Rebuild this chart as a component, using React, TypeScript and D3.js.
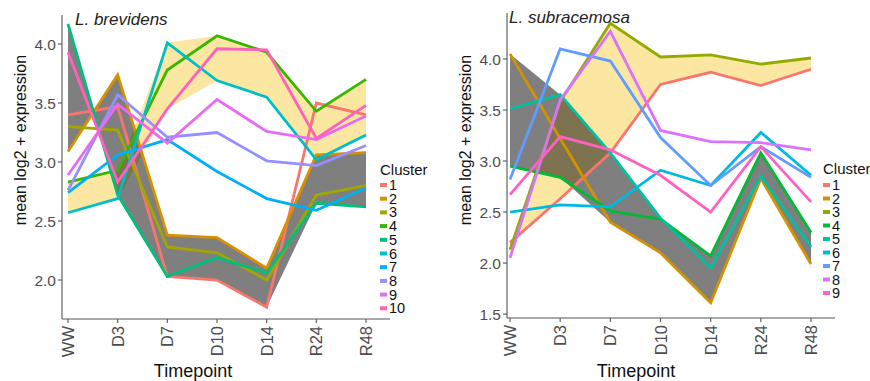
import React from "react";
import * as d3 from "d3";

const timepoints = ["WW", "D3", "D7", "D10", "D14", "R24", "R48"];

// L. brevidens, 10 clusters
const brevidens1 = [3.40, 3.47, 2.03, 2.00, 1.77, 3.50, 3.40];
const brevidens2 = [3.09, 3.74, 2.38, 2.36, 2.10, 3.06, 3.08];
const brevidens3 = [3.30, 3.27, 2.28, 2.23, 2.00, 2.72, 2.80];
const brevidens4 = [2.83, 2.93, 3.78, 4.07, 3.93, 3.43, 3.70];
const brevidens5 = [4.17, 2.72, 2.03, 2.19, 2.06, 2.65, 2.62];
const brevidens6 = [2.57, 2.69, 4.01, 3.69, 3.55, 3.02, 3.23];
const brevidens7 = [2.74, 3.06, 3.19, 2.92, 2.69, 2.59, 2.78];
const brevidens8 = [2.76, 3.57, 3.21, 3.25, 3.01, 2.97, 3.14];
const brevidens9 = [2.89, 3.49, 3.16, 3.53, 3.26, 3.19, 3.39];
const brevidens10 = [3.93, 2.83, 3.45, 3.96, 3.95, 3.20, 3.48];
const brevidensGrayA = [4.17, 2.72, 2.03, 2.00, 1.77, 2.65, 2.62];
const brevidensGrayB = [3.09, 3.74, 2.38, 2.36, 2.10, 3.06, 3.08];
const brevidensYellowA = [2.83, 2.93, 4.01, 4.07, 3.95, 3.43, 3.70];
const brevidensYellowB = [2.57, 2.69, 3.45, 3.69, 3.55, 3.02, 3.23];
const brevidensColors = ["#F8766D", "#D89000", "#A3A500", "#39B600", "#00BF7D",
  "#00BFC4", "#00B0F6", "#9590FF", "#E76BF3", "#FF62BC"];

// L. subracemosa, 9 clusters
const subracemosa1 = [2.20, 2.63, 3.08, 3.75, 3.87, 3.74, 3.90];
const subracemosa2 = [4.05, 3.22, 2.40, 2.10, 1.61, 2.83, 1.99];
const subracemosa3 = [2.13, 3.58, 4.35, 4.02, 4.04, 3.95, 4.01];
const subracemosa4 = [2.95, 2.84, 2.51, 2.43, 2.07, 3.08, 2.30];
const subracemosa5 = [3.51, 3.65, 3.08, 2.44, 1.95, 2.85, 2.16];
const subracemosa6 = [2.50, 2.57, 2.55, 2.91, 2.76, 3.28, 2.86];
const subracemosa7 = [2.82, 4.10, 3.98, 3.23, 2.76, 3.14, 2.84];
const subracemosa8 = [2.05, 3.60, 4.27, 3.30, 3.19, 3.18, 3.11];
const subracemosa9 = [2.67, 3.24, 3.11, 2.86, 2.50, 3.14, 2.60];
const subracemosaGrayA = [4.05, 3.65, 3.08, 2.44, 2.07, 3.08, 2.30];
const subracemosaGrayB = [2.95, 2.84, 2.40, 2.10, 1.61, 2.83, 1.99];
const subracemosaColors = ["#F8766D", "#D39200", "#93AA00", "#00BA38", "#00C19F",
  "#00B9E3", "#619CFF", "#DB72FB", "#FF61C3"];

const brevidensTicks = [2.0, 2.5, 3.0, 3.5, 4.0];
const subracemosaTicks = [1.5, 2.0, 2.5, 3.0, 3.5, 4.0];

const FONT = "'Liberation Sans', Arial, Helvetica, sans-serif";

const Panel = props => {
  const { layout } = props;
  const x = d3.scalePoint().domain(timepoints).range(layout.xRange);
  const y = d3.scaleLinear().domain(layout.yDomain).range([layout.bottom, layout.top]);
  const line = d3
    .line<number>()
    .x((d, i) => x(timepoints[i]))
    .y(d => y(d));
  const ribbon = (a, b) =>
    d3
      .area<number>()
      .x((d, i) => x(timepoints[i]))
      .y0(d => y(d))
      .y1((d, i) => y(b[i]))(a);
  const fmt = d3.format(".1f");
  const legendTop = layout.legendY0;

  return (
    <g fontFamily={FONT}>
      <path d={ribbon(props.yellowA, props.yellowB)} fill="#FBE7A1" />
      <path d={ribbon(props.grayA, props.grayB)} fill="#000" fillOpacity={0.5} />
      {props.series.map((s, i) => (
        <path key={i} d={line(s)} fill="none" stroke={props.colors[i]}
          strokeWidth={2.8} strokeLinejoin="miter" />
      ))}
      <line x1={layout.axisX} x2={layout.axisX} y1={layout.top} y2={layout.bottom + 1}
        stroke="#555" strokeWidth={1.1} />
      <line x1={layout.axisX} x2={layout.axisEnd} y1={layout.bottom + 1} y2={layout.bottom + 1}
        stroke="#555" strokeWidth={1.1} />
      {props.ticks.map(t => (
        <g key={t}>
          <line x1={layout.axisX - 4} x2={layout.axisX} y1={y(t)} y2={y(t)} stroke="#555" strokeWidth={1.1} />
          <text x={layout.axisX - 6} y={y(t)} textAnchor="end" dominantBaseline="central"
            fontSize={15.5} fill="#4D4D4D">{fmt(t)}</text>
        </g>
      ))}
      {timepoints.map(t => (
        <g key={t}>
          <line x1={x(t)} x2={x(t)} y1={layout.bottom + 1} y2={layout.bottom + 5} stroke="#555" strokeWidth={1.1} />
          <text transform={`translate(${x(t)},${layout.bottom + 8}) rotate(-90)`} textAnchor="end"
            dominantBaseline="central" fontSize={16.5} fill="#4D4D4D">{t}</text>
        </g>
      ))}
      <text x={layout.titleX} y={layout.top + 10} fontSize={17} fontStyle="italic" fill="#222">
        {props.title}
      </text>
      <text transform={`translate(${layout.yTitleX},${140}) rotate(-90)`} textAnchor="middle"
        dominantBaseline="central" fontSize={16} fill="#111">mean log2 + expression</text>
      <text x={layout.timepointX} y={377} textAnchor="middle" fontSize={18} fill="#111">Timepoint</text>
      <text x={layout.legendX} y={layout.legendTitleY} fontSize={15} fill="#111">Cluster</text>
      {props.colors.map((c, i) => (
        <g key={c}>
          <rect x={layout.legendX} y={legendTop + i * layout.step - 2} width={7} height={4} fill={c} />
          <text x={layout.legendX + 9} y={legendTop + i * layout.step} dominantBaseline="central"
            fontSize={14.5} fill="#111">{i + 1}</text>
        </g>
      ))}
    </g>
  );
};

const leftLayout = {
  axisX: 62, top: 15, bottom: 318, xRange: [68, 366], axisEnd: 390,
  yDomain: [1.678, 4.246], legendX: 380, legendTitleY: 175, legendY0: 185, step: 13.7,
  titleX: 75, yTitleX: 20, timepointX: 193
};
const rightLayout = {
  axisX: 507, top: 13, bottom: 317, xRange: [510, 811], axisEnd: 835,
  yDomain: [1.471, 4.451], legendX: 823, legendTitleY: 174, legendY0: 185, step: 13.5,
  titleX: 509, yTitleX: 465, timepointX: 636
};

export default function App() {
  return (
    <div style={{ position: "fixed", left: 0, top: 0 }}>
      <svg width={870} height={381} style={{ display: "block", background: "#fff" }}>
        <Panel
          layout={leftLayout}
          title="L. brevidens"
          series={[brevidens1, brevidens2, brevidens3, brevidens4, brevidens5,
            brevidens6, brevidens7, brevidens8, brevidens9, brevidens10]}
          colors={brevidensColors}
          ticks={brevidensTicks}
          grayA={brevidensGrayA}
          grayB={brevidensGrayB}
          yellowA={brevidensYellowA}
          yellowB={brevidensYellowB}
        />
        <Panel
          layout={rightLayout}
          title="L. subracemosa"
          series={[subracemosa1, subracemosa2, subracemosa3, subracemosa4, subracemosa5,
            subracemosa6, subracemosa7, subracemosa8, subracemosa9]}
          colors={subracemosaColors}
          ticks={subracemosaTicks}
          grayA={subracemosaGrayA}
          grayB={subracemosaGrayB}
          yellowA={subracemosa3}
          yellowB={subracemosa1}
        />
      </svg>
    </div>
  );
}
